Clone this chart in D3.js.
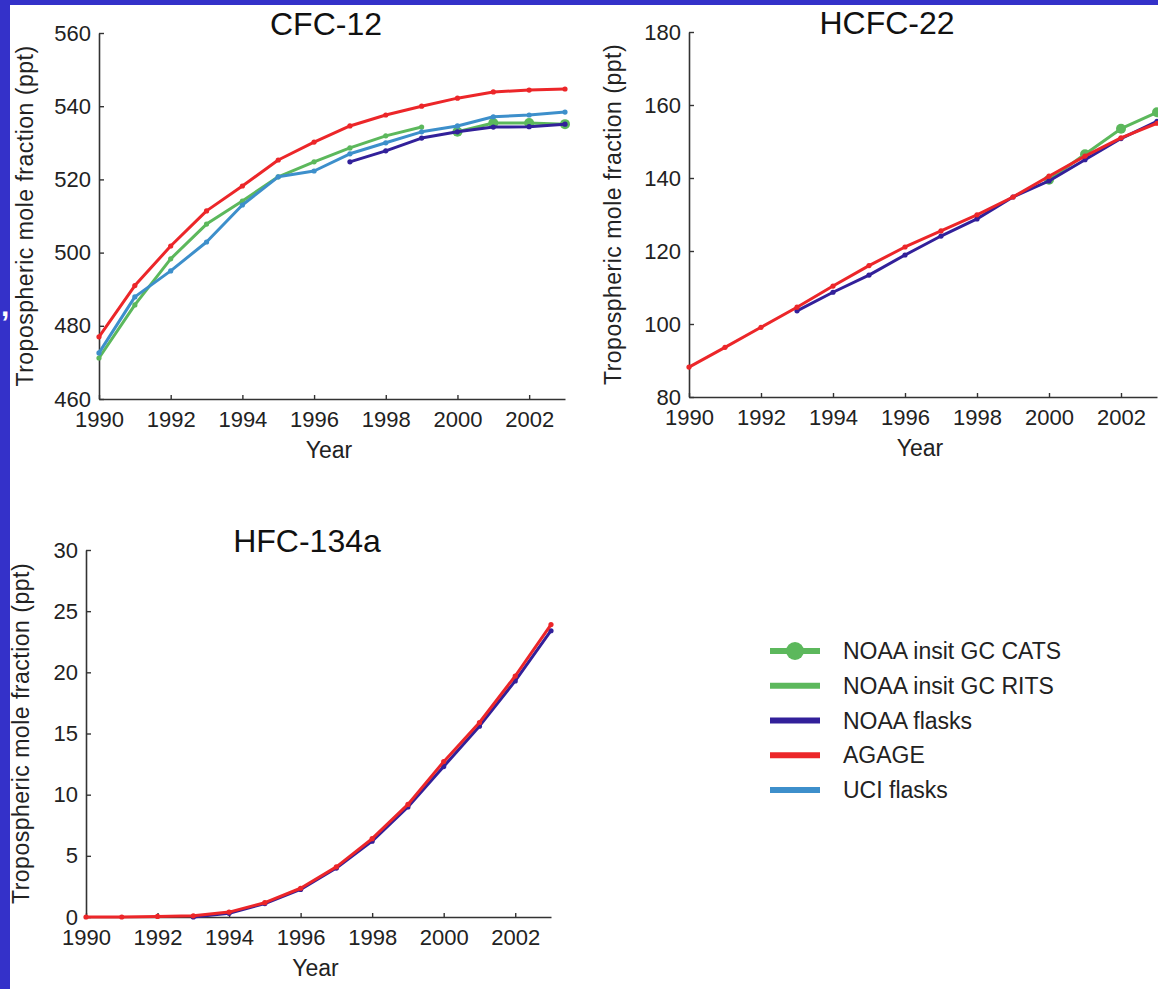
<!DOCTYPE html>
<meta charset="utf-8">
<script src="https://cdn.jsdelivr.net/npm/d3@7/dist/d3.min.js"></script>
<style>
    body { margin: 0; background: #fff; }
    svg { display: block; font-family: "Liberation Sans", Arial, sans-serif; }
</style>
<svg></svg>
<script>
    // data
    var years = [1990, 1991, 1992, 1993, 1994, 1995, 1996, 1997, 1998, 1999, 2000, 2001, 2002, 2003];
    var xTicks = [1990, 1992, 1994, 1996, 1998, 2000, 2002];

    var cfcCats = [null, null, null, null, null, null, null, null, null, null, 533, 535.4, 535.4, 535.1];
    var cfcRits = [471.2, 485.7, 498.3, 507.8, 514.1, 520.7, 524.8, 528.6, 531.9, 534.3, null, null, null, null];
    var cfcNoaa = [null, null, null, null, null, null, null, 524.8, 527.8, 531.3, 533, 534.3, 534.4, 535.1];
    var cfcAgage = [477, 491, 501.8, 511.4, 518.2, 525.3, 530.2, 534.6, 537.6, 540, 542.2, 543.9, 544.4, 544.7];
    var cfcUci = [472.6, 487.9, 495, 502.9, 513, 520.7, 522.3, 527, 530, 533, 534.6, 537.1, 537.6, 538.4];
    var cfcTicks = [460, 480, 500, 520, 540, 560];

    var hcfcCats = [null, null, null, null, null, null, null, null, null, null, 139.5, 146.5, 153.5, 158];
    var hcfcNoaa = [null, null, null, 103.6, 108.7, 113.4, 118.9, 124.1, 128.8, 134.8, 139.2, 145, 150.8, 155.5];
    var hcfcAgage = [88.2, 93.6, 99.1, 104.6, 110.4, 116, 121.1, 125.5, 129.9, 134.8, 140.5, 146, 151, 155];
    var hcfcTicks = [80, 100, 120, 140, 160, 180];

    var hfcNoaa = [null, null, null, 0, 0.3, 1.1, 2.25, 4.0, 6.2, 9.0, 12.3, 15.6, 19.3, 23.4];
    var hfcAgage = [0, 0, 0.05, 0.1, 0.4, 1.17, 2.35, 4.1, 6.4, 9.2, 12.7, 15.9, 19.7, 23.9];
    var hfcTicks = [0, 5, 10, 15, 20, 25, 30];

    var seriesNames = ['NOAA insit GC CATS', 'NOAA insit GC RITS', 'NOAA flasks', 'AGAGE', 'UCI flasks'];
    var seriesColors = ['#5cb85c', '#5cb85c', '#32209a', '#ec2629', '#3d8fcb'];

    var W = 1158, H = 989;
    var svg = d3.select('svg').attr('width', W).attr('height', H);

    // blue slide frame
    svg.append('rect').attr('width', W).attr('height', H).attr('fill', '#3431c9');
    svg.append('rect').attr('x', 10).attr('y', 5).attr('width', W - 10).attr('height', H - 5).attr('fill', '#fff');
    svg.append('text').attr('x', 1).attr('y', 316).attr('fill', '#fff')
        .attr('font-size', 30).attr('font-weight', 'bold').text(',');

    function panel(cfg) {
        var x = d3.scaleLinear().domain([1990, 2003]).range([cfg.left, cfg.right]);
        var y = d3.scaleLinear().domain(cfg.domain).range([cfg.bottom, cfg.top]);
        var g = svg.append('g');

        var xAxis = d3.axisBottom(x).tickValues(xTicks).tickFormat(d3.format('d'))
            .tickSizeInner(-4).tickSizeOuter(0).tickPadding(12);
        var yAxis = d3.axisLeft(y).tickValues(cfg.ticks).tickFormat(d3.format('d'))
            .tickSizeInner(-5).tickSizeOuter(0).tickPadding(8);

        [g.append('g').attr('transform', 'translate(0,' + cfg.bottom + ')').call(xAxis),
         g.append('g').attr('transform', 'translate(' + cfg.left + ',0)').call(yAxis)]
            .forEach(function (a) {
                a.select('.domain').attr('stroke', '#333').attr('stroke-width', 1.6);
                a.selectAll('.tick line').attr('stroke', '#333').attr('stroke-width', 1.4);
                a.selectAll('.tick text').attr('fill', '#222').attr('font-size', 22)
                    .attr('font-family', '"Liberation Sans", Arial, sans-serif');
            });

        g.append('text').attr('x', cfg.titleX).attr('y', cfg.top + 2)
            .attr('text-anchor', 'middle').attr('font-size', 32).attr('fill', '#111').text(cfg.title);
        g.append('text').attr('x', (cfg.left + cfg.right) / 2 - 3).attr('y', cfg.bottom + 59)
            .attr('text-anchor', 'middle').attr('font-size', 23).attr('fill', '#222').text('Year');
        g.append('text')
            .attr('transform', 'translate(' + (cfg.left - cfg.labelOff) + ',' + (cfg.top + cfg.bottom) / 2 + ') rotate(-90)')
            .attr('text-anchor', 'middle').attr('font-size', 23).attr('letter-spacing', 0.5).attr('fill', '#222')
            .text('Tropospheric mole fraction (ppt)');

        var line = d3.line()
            .defined(function (d) { return d != null; })
            .x(function (d, i) { return x(years[i]); })
            .y(function (d) { return y(d); });

        cfg.series.forEach(function (s) {
            var color = seriesColors[s.k];
            g.append('path').datum(s.v)
                .attr('fill', 'none').attr('stroke', color).attr('stroke-width', 3)
                .attr('stroke-linejoin', 'round').attr('d', line);
            var pts = s.v.map(function (d, i) { return { v: d, yr: years[i] }; })
                .filter(function (p) { return p.v != null; });
            g.selectAll(null).data(pts).enter().append('circle')
                .attr('cx', function (p) { return x(p.yr); })
                .attr('cy', function (p) { return y(p.v); })
                .attr('r', s.k === 0 ? 5 : 2.6)
                .attr('fill', color);
        });
    }

    panel({
        title: 'CFC-12', titleX: 326, left: 99, right: 565, top: 33, bottom: 399, labelOff: 66,
        domain: [460, 560], ticks: cfcTicks,
        series: [{ k: 0, v: cfcCats }, { k: 1, v: cfcRits }, { k: 4, v: cfcUci }, { k: 2, v: cfcNoaa }, { k: 3, v: cfcAgage }]
    });
    panel({
        title: 'HCFC-22', titleX: 887, left: 689, right: 1157, top: 32, bottom: 397, labelOff: 68,
        domain: [80, 180], ticks: hcfcTicks,
        series: [{ k: 0, v: hcfcCats }, { k: 2, v: hcfcNoaa }, { k: 3, v: hcfcAgage }]
    });
    panel({
        title: 'HFC-134a', titleX: 307, left: 86, right: 551, top: 550, bottom: 917, labelOff: 57,
        domain: [0, 30], ticks: hfcTicks,
        series: [{ k: 2, v: hfcNoaa }, { k: 3, v: hfcAgage }]
    });

    // legend
    var legend = svg.append('g');
    var rowY = d3.scaleLinear().domain([0, 4]).range([651, 790]);
    seriesNames.forEach(function (name, i) {
        legend.append('line').attr('x1', 770).attr('x2', 820)
            .attr('y1', rowY(i)).attr('y2', rowY(i))
            .attr('stroke', seriesColors[i]).attr('stroke-width', 6);
        if (i === 0) {
            legend.append('circle').attr('cx', 795).attr('cy', rowY(i)).attr('r', 9).attr('fill', seriesColors[i]);
        }
        legend.append('text').attr('x', 843).attr('y', rowY(i)).attr('dy', '0.35em')
            .attr('font-size', 23).attr('fill', '#222').text(name);
    });
</script>
